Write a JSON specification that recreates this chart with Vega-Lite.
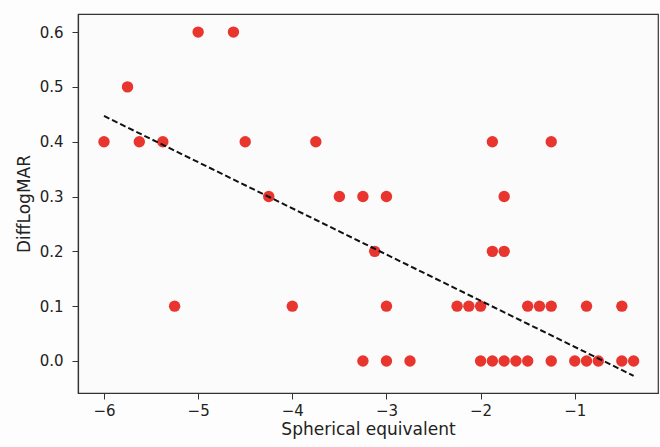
{
  "$schema": "https://vega.github.io/schema/vega-lite/v6.json",
  "autosize": "none",
  "width": 580,
  "height": 379,
  "padding": {"left": 78, "top": 14, "right": 2, "bottom": 54},
  "background": "#fdfdfd",
  "config": {
    "view": {"stroke": "#333333", "strokeWidth": 1.2, "fill": "#fbfbfb"},
    "axis": {
      "grid": false,
      "labelFont": "DejaVu Sans",
      "titleFont": "DejaVu Sans",
      "labelFontSize": 15,
      "titleFontSize": 17,
      "titleFontWeight": "normal",
      "labelColor": "#222222",
      "titleColor": "#222222",
      "domainColor": "#333333",
      "tickColor": "#333333",
      "tickSize": 6,
      "domainWidth": 1.2
    }
  },
  "datasets": {
    "points": [
      {"se": -5.0, "d": 0.6}, {"se": -4.625, "d": 0.6},
      {"se": -5.75, "d": 0.5},
      {"se": -6.0, "d": 0.4}, {"se": -5.625, "d": 0.4}, {"se": -5.375, "d": 0.4}, {"se": -4.5, "d": 0.4}, {"se": -3.75, "d": 0.4}, {"se": -1.875, "d": 0.4}, {"se": -1.25, "d": 0.4},
      {"se": -4.25, "d": 0.3}, {"se": -3.5, "d": 0.3}, {"se": -3.25, "d": 0.3}, {"se": -3.0, "d": 0.3}, {"se": -1.75, "d": 0.3},
      {"se": -3.125, "d": 0.2}, {"se": -1.875, "d": 0.2}, {"se": -1.75, "d": 0.2},
      {"se": -5.25, "d": 0.1}, {"se": -4.0, "d": 0.1}, {"se": -3.0, "d": 0.1}, {"se": -2.25, "d": 0.1}, {"se": -2.125, "d": 0.1}, {"se": -2.0, "d": 0.1}, {"se": -1.5, "d": 0.1}, {"se": -1.375, "d": 0.1}, {"se": -1.25, "d": 0.1}, {"se": -0.875, "d": 0.1}, {"se": -0.5, "d": 0.1},
      {"se": -3.25, "d": 0.0}, {"se": -3.0, "d": 0.0}, {"se": -2.75, "d": 0.0}, {"se": -2.0, "d": 0.0}, {"se": -1.875, "d": 0.0}, {"se": -1.75, "d": 0.0}, {"se": -1.625, "d": 0.0}, {"se": -1.5, "d": 0.0}, {"se": -1.25, "d": 0.0}, {"se": -1.0, "d": 0.0}, {"se": -0.875, "d": 0.0}, {"se": -0.75, "d": 0.0}, {"se": -0.5, "d": 0.0}, {"se": -0.375, "d": 0.0}
    ],
    "fit": [
      {"se": -6.0, "d": 0.447},
      {"se": -0.375, "d": -0.027}
    ]
  },
  "layer": [
    {
      "data": {"name": "points"},
      "mark": {"type": "circle", "size": 130, "color": "#e8352e", "opacity": 1},
      "encoding": {
        "x": {
          "field": "se", "type": "quantitative",
          "scale": {"domain": [-6.276, -0.116], "nice": false, "zero": false},
          "axis": {"values": [-6, -5, -4, -3, -2, -1], "format": "d", "title": "Spherical equivalent", "labelPadding": 4, "titlePadding": 3}
        },
        "y": {
          "field": "d", "type": "quantitative",
          "scale": {"domain": [-0.0584, 0.633], "nice": false, "zero": false},
          "axis": {"values": [0, 0.1, 0.2, 0.3, 0.4, 0.5, 0.6], "format": ".1f", "title": "DiffLogMAR", "labelPadding": 9, "titlePadding": 6}
        }
      }
    },
    {
      "data": {"name": "fit"},
      "mark": {"type": "line", "color": "#111111", "strokeWidth": 2, "strokeDash": [6, 3]},
      "encoding": {
        "x": {"field": "se", "type": "quantitative"},
        "y": {"field": "d", "type": "quantitative"}
      }
    }
  ]
}
